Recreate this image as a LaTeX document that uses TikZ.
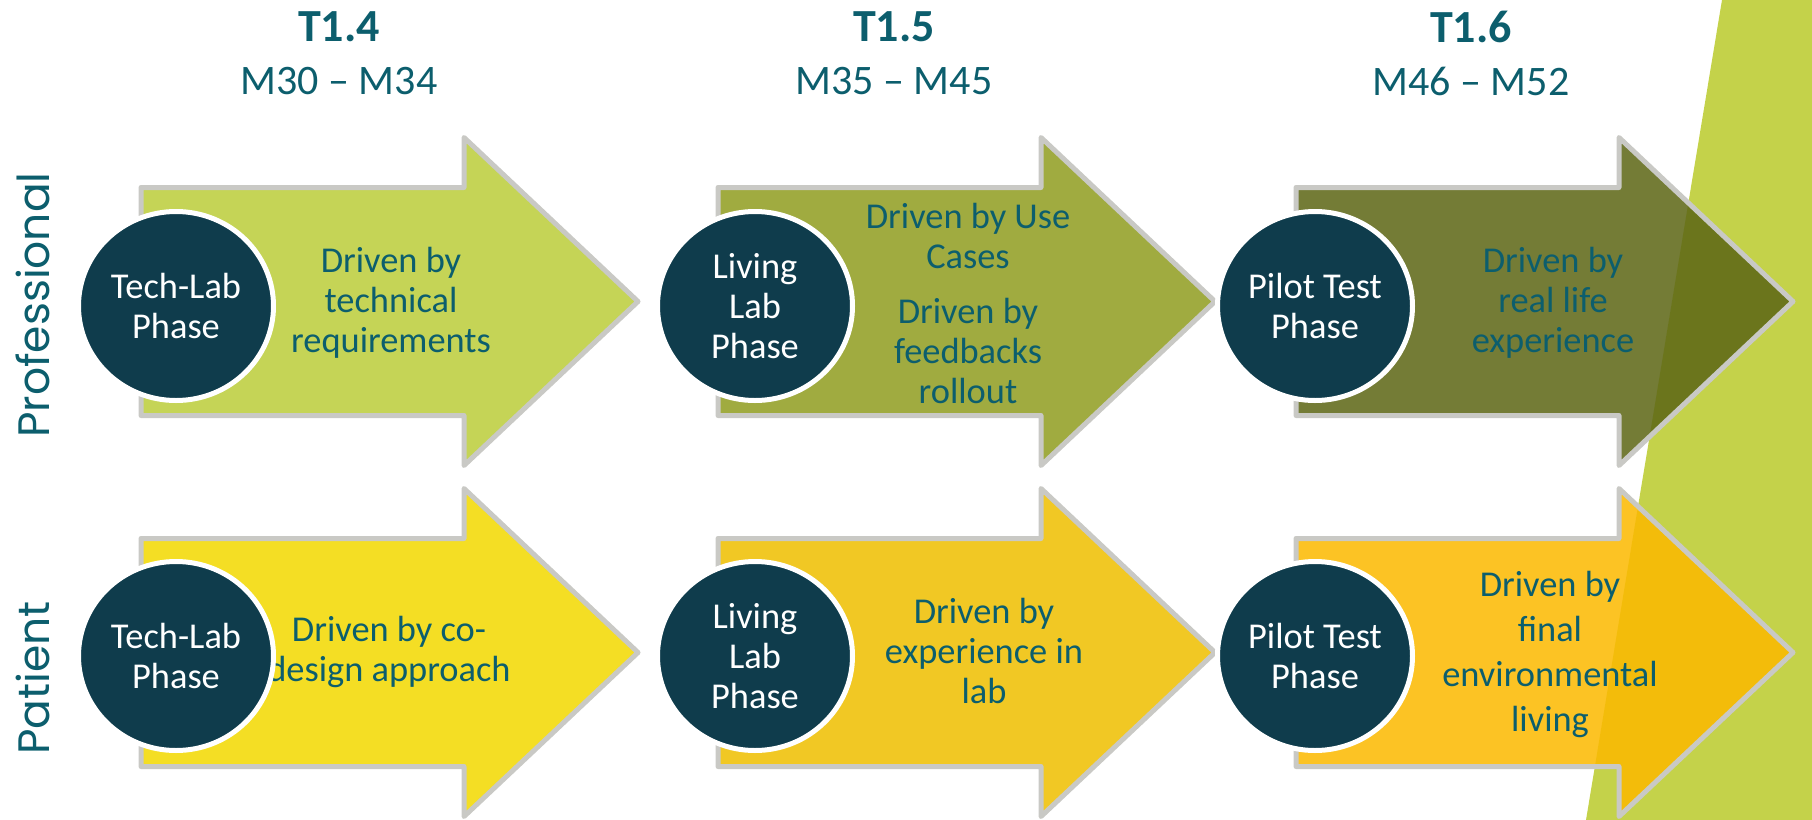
\documentclass[tikz,border=0pt]{standalone}
\usepackage{fontspec}
\setmainfont{Carlito}
\newfontfamily\sidefont{Poppins}
\usetikzlibrary{shapes.geometric}

\definecolor{limebg}{HTML}{C4D24A}
\definecolor{arrowgray}{HTML}{C9C9C5}
\definecolor{navy}{HTML}{0F3C4C}
\definecolor{tealtxt}{HTML}{0C5E6D}
\definecolor{proA}{HTML}{BBCD3A}
\definecolor{proB}{HTML}{909D21}
\definecolor{proC}{HTML}{5D6615}
\definecolor{patA}{HTML}{F2D900}
\definecolor{patB}{HTML}{EFBF00}
\definecolor{patC}{HTML}{FBB900}

\tikzset{
  phasearrow/.style={draw=arrowgray, line width=2.5pt, line join=round, fill opacity=.86},
  bodyfont/.style={font=\fontsize{18.2}{20}\selectfont}
}

\begin{document}
\begin{tikzpicture}[x=0.5pt, y=-0.5pt]
    \useasboundingbox (0,0) rectangle (1812,820);
    % green band on the right
    \fill[limebg] (1722,0) -- (1812,0) -- (1812,820) -- (1586,820) -- cycle;

    % professional row
    \draw[phasearrow, fill=proA, shift={(141,301.5)}] (0,-114) -- (323,-114) -- (323,-164) -- (497,0) -- (323,164) -- (323,114) -- (0,114) -- cycle;
    \draw[phasearrow, fill=proB, shift={(718,301.5)}] (0,-114) -- (323,-114) -- (323,-164) -- (497,0) -- (323,164) -- (323,114) -- (0,114) -- cycle;
    \draw[phasearrow, fill=proC, shift={(1296,301.5)}] (0,-114) -- (323,-114) -- (323,-164) -- (497,0) -- (323,164) -- (323,114) -- (0,114) -- cycle;
    % patient row
    \draw[phasearrow, fill=patA, shift={(141,652.5)}] (0,-114) -- (323,-114) -- (323,-164) -- (497,0) -- (323,164) -- (323,114) -- (0,114) -- cycle;
    \draw[phasearrow, fill=patB, shift={(718,652.5)}] (0,-114) -- (323,-114) -- (323,-164) -- (497,0) -- (323,164) -- (323,114) -- (0,114) -- cycle;
    \draw[phasearrow, fill=patC, shift={(1296,652.5)}] (0,-114) -- (323,-114) -- (323,-164) -- (497,0) -- (323,164) -- (323,114) -- (0,114) -- cycle;

    \begin{scope}[every node/.style={text=tealtxt, align=center, bodyfont}]
    \node (d14) at (391,303) {Driven by\\technical\\requirements};
    \node (d15a) at (968,236) {Driven by Use\\Cases};
    \node (d15b) at (968,351) {Driven by\\feedbacks\\rollout};
    \node (d16) at (1553,303) {Driven by\\real life\\experience};
    \node (d14_) at (389,652) {Driven by co-\\design approach};
    \node (d15_) at (984,651) {Driven by\\experience in\\lab};
    \node[font=\fontsize{18.2}{22.5}\selectfont] (d16_) at (1550,654) {Driven by\\final\\environmental\\living};
    \end{scope}

    \begin{scope}[every node/.style={ellipse, draw=white, line width=2.5pt, fill=navy, text=white,
        minimum width=97.5pt, minimum height=94.5pt, inner sep=0pt, align=center, bodyfont}]
    \node (tl) at (176,306) {Tech-Lab\\Phase};
    \node (ll) at (755,306) {Living\\Lab\\Phase};
    \node (pt) at (1315,306) {Pilot Test\\Phase};
    \node (tl_) at (176,656) {Tech-Lab\\Phase};
    \node (ll_) at (755,656) {Living\\Lab\\Phase};
    \node (pt_) at (1315,656) {Pilot Test\\Phase};
    \end{scope}

    \begin{scope}[every node/.style={text=tealtxt}]
    \node[font=\bfseries\fontsize{23}{27}\selectfont] (t14) at (339,27) {T1.4};
    \node[font=\fontsize{21}{25}\selectfont] (m14) at (339,81) {M30 -- M34};
    \node[font=\bfseries\fontsize{23}{27}\selectfont] (t15) at (894,27) {T1.5};
    \node[font=\fontsize{21}{25}\selectfont] (m15) at (894,81) {M35 -- M45};
    \node[font=\bfseries\fontsize{23}{27}\selectfont] (t16) at (1471,27) {T1.6};
    \node[font=\fontsize{21}{25}\selectfont] (m16) at (1471,81) {M46 -- M52};
    \node[rotate=90, font=\sidefont\fontsize{22}{26}\selectfont] (prof) at (33,305) {Professional};
    \node[rotate=90, font=\sidefont\fontsize{22}{26}\selectfont] (pat) at (33,678) {Patient};
    \end{scope}
\end{tikzpicture}
\end{document}
